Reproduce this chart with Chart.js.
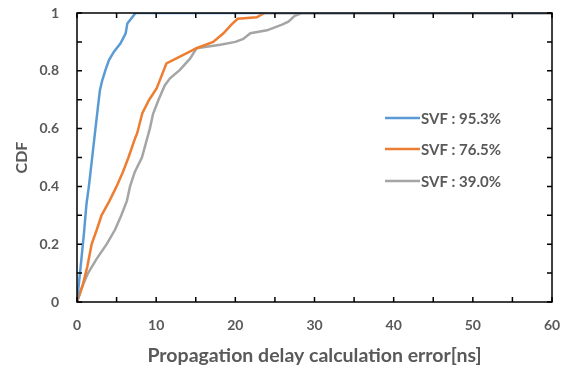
<!DOCTYPE html>
<html lang="en">
<head>
<meta charset="UTF-8">
<title>CDF of propagation delay calculation error</title>
<script src="https://cdn.jsdelivr.net/npm/chart.js"></script>
<style>
    html, body { margin: 0; padding: 0; background: #fff; }
    #wrap { width: 569px; height: 368px; }
</style>
</head>
<body>
<div id="wrap"><canvas id="cdfChart"></canvas></div>
<script>
// Data (error in ns, CDF)
const svf953Err = [0, 0.46, 0.88, 1.2, 1.5, 1.93, 2.36, 2.65, 2.9, 3.2, 3.6, 4.04, 4.67, 5.5, 6.15, 6.36, 7.4, 60];
const svf953Cdf = [0, 0.122, 0.238, 0.34, 0.4, 0.503, 0.607, 0.676, 0.734, 0.768, 0.803, 0.837, 0.866, 0.895, 0.93, 0.964, 1, 1];

const svf765Err = [0, 0.67, 1.3, 1.85, 2.5, 3.1, 4.1, 5.0, 5.8, 6.5, 7.33, 7.6, 8.25, 9.1, 10.07, 11.3, 13.0, 15.1, 17.2, 18.5, 19.5, 20.3, 22.7, 23.7, 60];
const svf765Cdf = [0, 0.053, 0.122, 0.2, 0.25, 0.3, 0.35, 0.4, 0.45, 0.5, 0.566, 0.584, 0.653, 0.699, 0.74, 0.826, 0.849, 0.878, 0.9, 0.93, 0.96, 0.98, 0.985, 1, 1];

const svf390Err = [0, 0.6, 1.4, 2.5, 3.75, 4.8, 5.6, 6.3, 6.7, 7.3, 8.2, 8.7, 9.2, 9.6, 10.3, 11.1, 11.75, 13.0, 14.3, 15.1, 18.1, 20.0, 21.0, 21.9, 24.0, 25.9, 26.7, 27.5, 28.4, 60];
const svf390Cdf = [0, 0.05, 0.1, 0.15, 0.2, 0.25, 0.3, 0.35, 0.4, 0.45, 0.5, 0.55, 0.6, 0.65, 0.7, 0.75, 0.774, 0.803, 0.843, 0.878, 0.89, 0.9, 0.91, 0.93, 0.94, 0.96, 0.97, 0.99, 1, 1];

const seriesLabels = ['SVF : 95.3%', 'SVF : 76.5%', 'SVF : 39.0%'];
const seriesColors = ['#5B9BD5', '#ED7D31', '#A5A5A5'];

const textGray = '#595959';
const fontFamily = 'Lato, "Open Sans", sans-serif';

function toPoints(xs, ys) {
    return xs.map((x, i) => ({ x: x, y: ys[i] }));
}

// box frame + inward ticks on all four sides, and the legend inside the plot
const frameAndLegend = {
    id: 'frameAndLegend',
    afterDatasetsDraw(chart) {
        const ctx = chart.ctx;
        const area = chart.chartArea;
        const xs = chart.scales.x;
        const ys = chart.scales.y;
        const tick = 5;
        ctx.save();
        ctx.strokeStyle = '#000';
        ctx.lineWidth = 1.5;
        ctx.strokeRect(area.left, area.top, area.right - area.left, area.bottom - area.top);
        ctx.beginPath();
        xs.ticks.forEach(t => {
            const px = xs.getPixelForValue(t.value);
            ctx.moveTo(px, area.bottom);
            ctx.lineTo(px, area.bottom - tick);
            ctx.moveTo(px, area.top);
            ctx.lineTo(px, area.top + tick);
        });
        ys.ticks.forEach(t => {
            const py = ys.getPixelForValue(t.value);
            ctx.moveTo(area.left, py);
            ctx.lineTo(area.left + tick, py);
            ctx.moveTo(area.right, py);
            ctx.lineTo(area.right - tick, py);
        });
        ctx.stroke();

        // legend
        const lx = area.left + 308;
        const ly = [area.top + 105, area.top + 136, area.top + 168];
        ctx.font = 'bold 15px ' + fontFamily;
        ctx.textBaseline = 'middle';
        ctx.textAlign = 'left';
        chart.data.datasets.forEach((ds, i) => {
            ctx.strokeStyle = ds.borderColor;
            ctx.lineWidth = 2.5;
            ctx.beginPath();
            ctx.moveTo(lx, ly[i]);
            ctx.lineTo(lx + 35, ly[i]);
            ctx.stroke();
            ctx.fillStyle = textGray;
            ctx.fillText(ds.label, lx + 36, ly[i] + 1);
        });
        ctx.restore();
    }
};

new Chart(document.getElementById('cdfChart'), {
    type: 'line',
    data: {
        datasets: [
            { label: seriesLabels[0], data: toPoints(svf953Err, svf953Cdf), borderColor: seriesColors[0] },
            { label: seriesLabels[1], data: toPoints(svf765Err, svf765Cdf), borderColor: seriesColors[1] },
            { label: seriesLabels[2], data: toPoints(svf390Err, svf390Cdf), borderColor: seriesColors[2] }
        ]
    },
    options: {
        responsive: true,
        maintainAspectRatio: false,
        animation: false,
        layout: { padding: { top: 13, right: 17, left: 0, bottom: 0 } },
        elements: {
            point: { radius: 0 },
            line: { borderWidth: 2.5, tension: 0 }
        },
        plugins: {
            legend: { display: false },
            tooltip: { enabled: false }
        },
        scales: {
            x: {
                type: 'linear',
                min: 0,
                max: 60,
                grid: { display: false, drawTicks: false },
                border: { display: false },
                ticks: {
                    stepSize: 5,
                    autoSkip: false,
                    maxRotation: 0,
                    padding: 15,
                    color: textGray,
                    font: { family: fontFamily, size: 14, weight: 'bold' },
                    callback: v => (v % 10 === 0 ? String(v) : '')
                },
                title: {
                    display: true,
                    text: 'Propagation delay calculation error[ns]',
                    color: textGray,
                    font: { family: fontFamily, size: 19.5, weight: 'bold' },
                    padding: { top: 0, bottom: 1 }
                },
                afterFit: s => {
                    s.height = 66;
                    s.paddingLeft = 0;
                    s.paddingRight = 0;
                }
            },
            y: {
                min: 0,
                max: 1,
                grid: { display: false, drawTicks: false },
                border: { display: false },
                ticks: {
                    stepSize: 0.1,
                    autoSkip: false,
                    padding: 18,
                    color: textGray,
                    font: { family: fontFamily, size: 14, weight: 'bold' },
                    callback: v => (Math.round(v * 10) % 2 === 0 ? String(Math.round(v * 10) / 10) : '')
                },
                title: {
                    display: true,
                    text: 'CDF',
                    color: textGray,
                    font: { family: fontFamily, size: 16, weight: 'bold' },
                    padding: { top: 12, bottom: 0 }
                },
                afterFit: s => {
                    s.width = 77;
                    s.paddingTop = 0;
                    s.paddingBottom = 0;
                }
            }
        }
    },
    plugins: [frameAndLegend]
});
</script>
</body>
</html>
